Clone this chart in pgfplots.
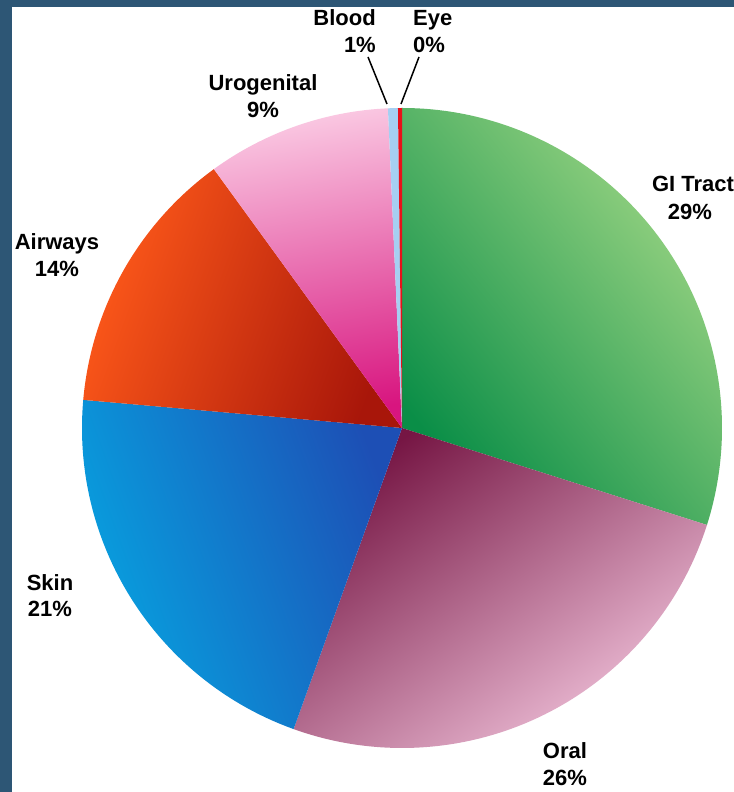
\documentclass[border=0pt]{standalone}
\usepackage{pgfplots}
\pgfplotsset{compat=1.18}
\usepackage{pgfplotstable}
\usepackage{fontspec}
\setmainfont{Liberation Sans}

\definecolor{bgslate}{HTML}{2D5675}
\definecolor{giL}{HTML}{A2D886}\definecolor{giM}{HTML}{12A457}\definecolor{giD}{HTML}{0A8E47}
\definecolor{orD}{HTML}{761644}\definecolor{orM}{HTML}{B4668D}\definecolor{orL}{HTML}{F2C4DC}
\definecolor{skD}{HTML}{1D4FB5}\definecolor{skM}{HTML}{0A7CCB}\definecolor{skL}{HTML}{06A6E2}
\definecolor{awL}{HTML}{FF5A1A}\definecolor{awM}{HTML}{E0400F}\definecolor{awD}{HTML}{A8160A}
\definecolor{ugL}{HTML}{FAC8E2}\definecolor{ugM}{HTML}{F08CC0}\definecolor{ugD}{HTML}{D8157F}
\definecolor{blood}{HTML}{A6CFF2}
\definecolor{eye}{HTML}{E8101A}

% slice shares (percent), clockwise from 12 o'clock
\pgfplotstableread{
slice      pct
GITract    29.9
Oral       25.6
Skin       20.9
Airways    13.6
Urogenital 9.3
Blood      0.5
Eye        0.2
}\piedata

\newcommand\pieslice[2]{%
  \shade[#2] (axis cs:402,364) -- ([shift={(\csname sA#1\endcsname:320bp)}]axis cs:402,364)
    arc[start angle=\csname sA#1\endcsname, end angle=\csname sB#1\endcsname, radius=320bp] -- cycle;}

\newcommand\lab[4]{\node[anchor=#1, inner sep=0pt, font=\fontsize{22bp}{26bp}\selectfont\bfseries] at (axis cs:#2,#3) {#4};}

\begin{document}
\xdef\angA{90}%
\pgfplotsforeachungrouped \i in {0,...,6}{%
  \pgfplotstablegetelem{\i}{pct}\of\piedata
  \pgfmathsetmacro\angB{\angA-3.6*\pgfplotsretval}%
  \expandafter\xdef\csname sA\i\endcsname{\angA}%
  \expandafter\xdef\csname sB\i\endcsname{\angB}%
  \xdef\angA{\angB}%
}%
\begin{tikzpicture}
\begin{axis}[name=ax, scale only axis, width=734bp, height=792bp,
  xmin=0, xmax=734, ymin=0, ymax=792, enlargelimits=false,
  hide axis, clip=false]
  \fill[bgslate] (axis cs:0,0) rectangle (axis cs:734,792);
  \fill[white] (axis cs:12,0) rectangle (axis cs:734,785);

  \pieslice{0}{top color=giL, middle color=giM, bottom color=giD, shading angle=-51}
  \pieslice{1}{top color=orD, middle color=orM, bottom color=orL, shading angle=35}
  \pieslice{2}{top color=skD, middle color=skM, bottom color=skL, shading angle=-70}
  \pieslice{3}{top color=awL, middle color=awM, bottom color=awD, shading angle=70}
  \pieslice{4}{top color=ugL, middle color=ugM, bottom color=ugD, shading angle=10}
  \pieslice{5}{top color=blood, bottom color=blood}
  \pieslice{6}{top color=eye, bottom color=eye}

  % labels (y = 792 - pixel row)
  \lab{base east}{376}{766}{Blood}
  \lab{base east}{376}{739}{1\%}
  \lab{base west}{413}{766}{Eye}
  \lab{base west}{413}{739}{0\%}
  \draw[line width=1.5bp] (axis cs:368,735) -- (axis cs:387,688);
  \draw[line width=1.5bp] (axis cs:419,735) -- (axis cs:401,688);
  \lab{base}{263}{701}{Urogenital}
  \lab{base}{263}{674}{9\%}
  \lab{base}{693}{600}{GI Tract}
  \lab{base}{690}{572}{29\%}
  \lab{base}{57}{542}{Airways}
  \lab{base}{57}{515}{14\%}
  \lab{base}{50}{201}{Skin}
  \lab{base}{50}{175}{21\%}
  \lab{base}{565}{33}{Oral}
  \lab{base}{565}{7}{26\%}
\end{axis}
\pgfresetboundingbox
\path (ax.south west) rectangle (ax.north east);
\end{tikzpicture}
\end{document}
